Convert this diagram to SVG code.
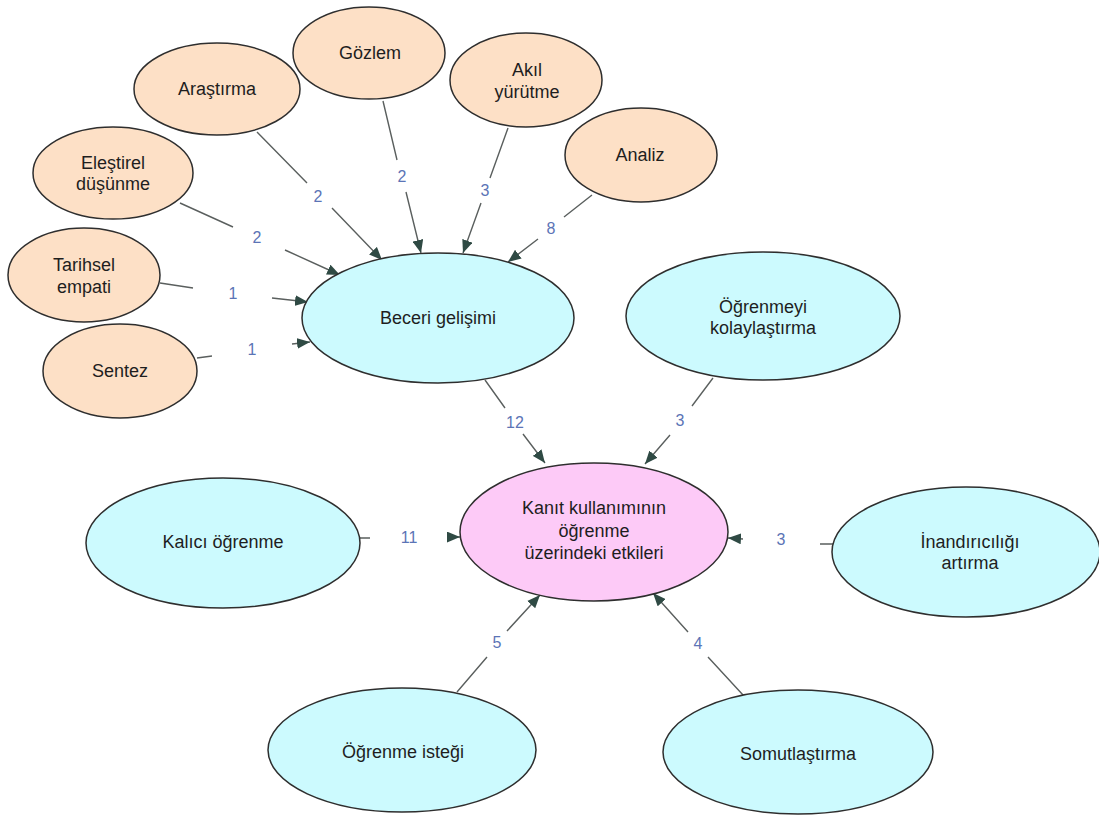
<svg xmlns="http://www.w3.org/2000/svg" width="1099" height="818" viewBox="0 0 1099 818">
<style>
.n ellipse{stroke:#2e2e2e;stroke-width:1.5}
.peach{fill:#fde0c6}
.cyan{fill:#ccfafe}
.pink{fill:#fdcaf7}
.t{font-family:"Liberation Sans",Arial,sans-serif;font-size:18px;fill:#1e1e1e;text-anchor:middle;dominant-baseline:central}
.c path{fill:none;stroke:#5a5f5e;stroke-width:1.4;marker-end:url(#ah)}
.l{font-family:"Liberation Sans",Arial,sans-serif;font-size:16px;fill:#5b74b6;text-anchor:middle;dominant-baseline:central}
</style>
<defs>
<marker id="ah" viewBox="0 0 12 10" refX="12" refY="5" markerWidth="13" markerHeight="11" markerUnits="userSpaceOnUse" orient="auto">
<path d="M0,0 L12,5 L0,10 z" fill="#2f4a44"/>
</marker>
</defs>
<rect width="1099" height="818" fill="#ffffff"/>

<g id="connectors" class="c">
<path d="M257,132 L307,183 M332,208 L382,260"/>
<path d="M383,101 L397,160 M406,192 L421,253"/>
<path d="M508,128 L490,178 M481,203 L463,253"/>
<path d="M592,195 L564,217 M538,239 L508,262"/>
<path d="M180,203 L233,227 M285,250 L340,275"/>
<path d="M160,283 L193,288 M272,298 L308,302"/>
<path d="M197,358 L212,356 M292,344 L310,342"/>
<path d="M485,380 L505,408 M523,434 L545,463"/>
<path d="M713,378 L692,406 M670,435 L645,464"/>
<path d="M360,538 L370,538 M448,537 L460,537"/>
<path d="M833,544 L820,544 M743,539 L728,538"/>
<path d="M457,692 L487,657 M507,631 L540,595"/>
<path d="M743,695 L708,657 M688,632 L653,593"/>
</g>
<g id="labels">
<text class="l" x="318" y="196">2</text>
<text class="l" x="402" y="176">2</text>
<text class="l" x="485" y="190">3</text>
<text class="l" x="551" y="228">8</text>
<text class="l" x="257" y="237">2</text>
<text class="l" x="233" y="293">1</text>
<text class="l" x="252" y="349">1</text>
<text class="l" x="515" y="422">12</text>
<text class="l" x="680" y="420">3</text>
<text class="l" x="409" y="537">11</text>
<text class="l" x="781" y="539">3</text>
<text class="l" x="497" y="642">5</text>
<text class="l" x="698" y="643">4</text>
</g>

<g id="arastirma" class="n"><ellipse class="peach" cx="217" cy="89" rx="83" ry="46"/><text class="t" x="217" y="89">Araştırma</text></g>
<g id="gozlem" class="n"><ellipse class="peach" cx="369" cy="53" rx="76" ry="46"/><text class="t" x="370" y="53">Gözlem</text></g>
<g id="akil" class="n"><ellipse class="peach" cx="526" cy="80" rx="76" ry="47"/><text class="t" x="527" y="70">Akıl</text><text class="t" x="527" y="92">yürütme</text></g>
<g id="analiz" class="n"><ellipse class="peach" cx="641" cy="155" rx="76" ry="47"/><text class="t" x="640" y="155">Analiz</text></g>
<g id="elestirel" class="n"><ellipse class="peach" cx="113" cy="173" rx="80" ry="46"/><text class="t" x="113" y="163">Eleştirel</text><text class="t" x="113" y="184">düşünme</text></g>
<g id="tarihsel" class="n"><ellipse class="peach" cx="84" cy="275" rx="76" ry="47"/><text class="t" x="84" y="265">Tarihsel</text><text class="t" x="84" y="287">empati</text></g>
<g id="sentez" class="n"><ellipse class="peach" cx="120" cy="371" rx="77" ry="47"/><text class="t" x="120" y="371">Sentez</text></g>
<g id="beceri" class="n"><ellipse class="cyan" cx="438" cy="318" rx="136" ry="65"/><text class="t" x="438" y="318">Beceri gelişimi</text></g>
<g id="ogrenmeyi" class="n"><ellipse class="cyan" cx="763" cy="316" rx="137" ry="64"/><text class="t" x="763" y="307">Öğrenmeyi</text><text class="t" x="763" y="328">kolaylaştırma</text></g>
<g id="kanit" class="n"><ellipse class="pink" cx="594" cy="532" rx="134" ry="69"/><text class="t" x="594" y="508">Kanıt kullanımının</text><text class="t" x="594" y="531">öğrenme</text><text class="t" x="594" y="553">üzerindeki etkileri</text></g>
<g id="kalici" class="n"><ellipse class="cyan" cx="223" cy="543" rx="137" ry="65"/><text class="t" x="223" y="542">Kalıcı öğrenme</text></g>
<g id="inandiricilik" class="n"><ellipse class="cyan" cx="966" cy="552" rx="134" ry="65"/><text class="t" x="970" y="542">İnandırıcılığı</text><text class="t" x="970" y="563">artırma</text></g>
<g id="istek" class="n"><ellipse class="cyan" cx="402" cy="750" rx="134" ry="62"/><text class="t" x="403" y="752">Öğrenme isteği</text></g>
<g id="somut" class="n"><ellipse class="cyan" cx="798" cy="752" rx="135" ry="62"/><text class="t" x="798" y="754">Somutlaştırma</text></g>
</svg>
